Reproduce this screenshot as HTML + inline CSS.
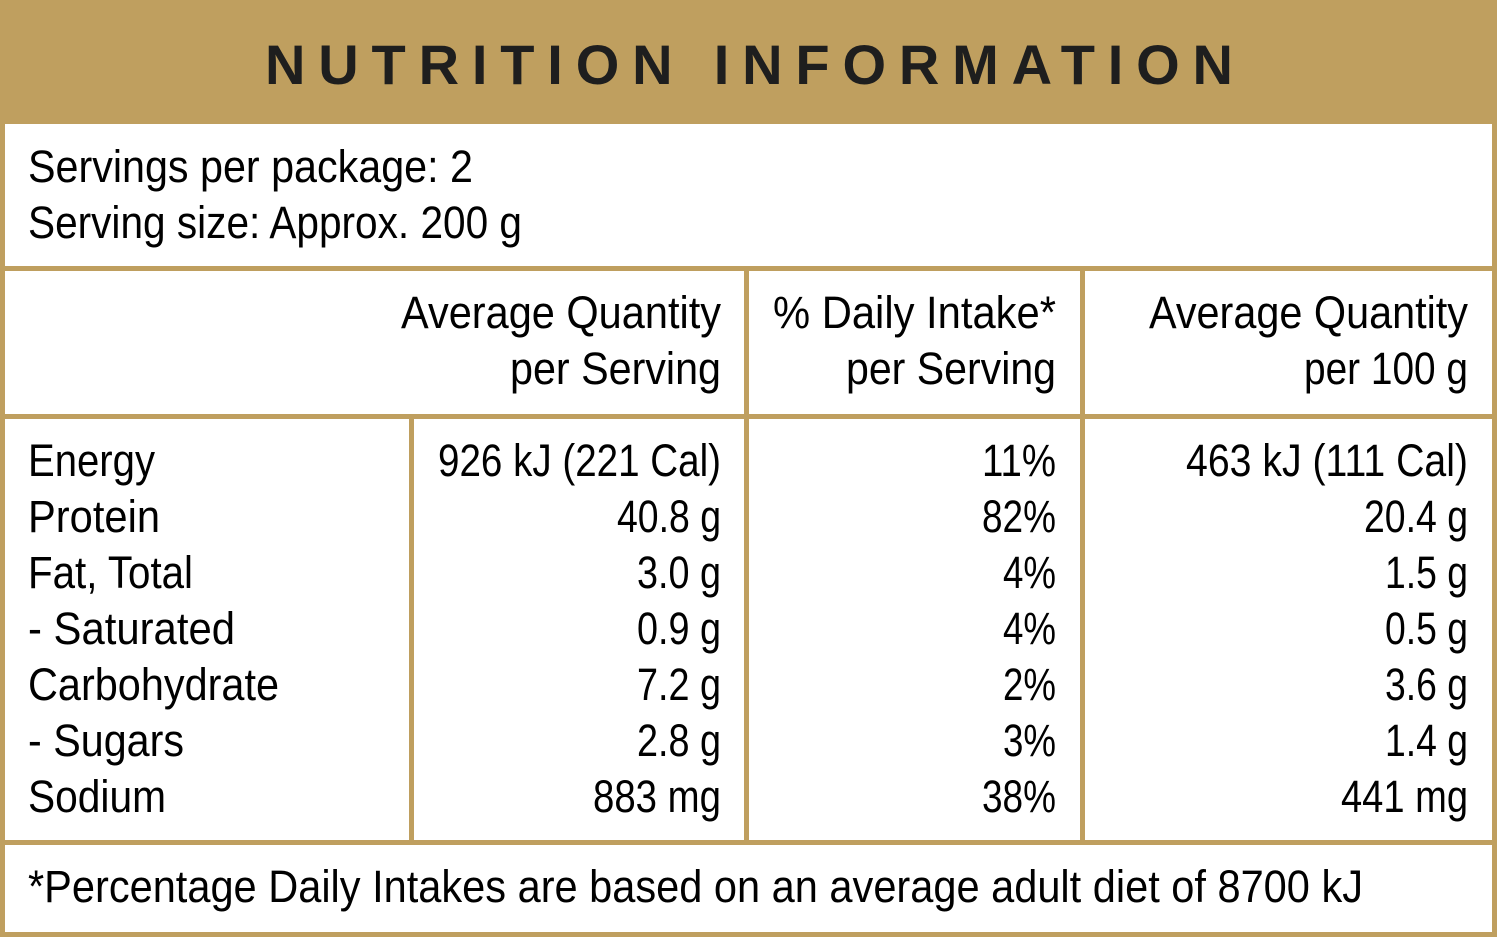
<!DOCTYPE html>
<html><head><meta charset="utf-8"><style>
html,body{margin:0;padding:0;background:#fff}
svg{display:block}
text{font-family:"Liberation Sans Narrow","Liberation Sans",sans-serif;font-size:45px;fill:#000}
</style></head><body>
<svg width="1497" height="937" viewBox="0 0 1497 937" xmlns="http://www.w3.org/2000/svg">
<g fill="#bf9f5f">
<rect x="0" y="0" width="1497" height="124"/>
<rect x="0" y="0" width="5" height="937"/>
<rect x="1492" y="0" width="5" height="937"/>
<rect x="0" y="266" width="1497" height="5"/>
<rect x="0" y="414" width="1497" height="5"/>
<rect x="0" y="840" width="1497" height="5"/>
<rect x="0" y="932" width="1497" height="5"/>
<rect x="409" y="414" width="5" height="428"/>
<rect x="744" y="266" width="5" height="576"/>
<rect x="1080" y="266" width="5" height="576"/>
</g>
<g transform="translate(0,-3)">
<text x="265" y="87" textLength="968" lengthAdjust="spacing" style="font-family:'Liberation Sans',sans-serif;font-weight:bold;font-size:56px;fill:#1e1e1e">NUTRITION INFORMATION</text>
<text x="28" y="185" textLength="445" lengthAdjust="spacingAndGlyphs">Servings per package: 2</text>
<text x="28" y="241" textLength="494" lengthAdjust="spacingAndGlyphs">Serving size: Approx. 200 g</text>
<g text-anchor="end">
<text x="721" y="331" textLength="320" lengthAdjust="spacingAndGlyphs">Average Quantity</text>
<text x="721" y="387" textLength="211" lengthAdjust="spacingAndGlyphs">per Serving</text>
<text x="1056" y="331" textLength="283" lengthAdjust="spacingAndGlyphs">% Daily Intake*</text>
<text x="1056" y="387" textLength="210" lengthAdjust="spacingAndGlyphs">per Serving</text>
<text x="1468" y="331" textLength="319" lengthAdjust="spacingAndGlyphs">Average Quantity</text>
<text x="1468" y="387" textLength="164" lengthAdjust="spacingAndGlyphs">per 100 g</text>
</g>
<g>
<text x="28" y="479" textLength="127" lengthAdjust="spacingAndGlyphs">Energy</text>
<text x="28" y="535" textLength="132" lengthAdjust="spacingAndGlyphs">Protein</text>
<text x="28" y="591" textLength="165" lengthAdjust="spacingAndGlyphs">Fat, Total</text>
<text x="28" y="647" textLength="207" lengthAdjust="spacingAndGlyphs">- Saturated</text>
<text x="28" y="703" textLength="251" lengthAdjust="spacingAndGlyphs">Carbohydrate</text>
<text x="28" y="759" textLength="156" lengthAdjust="spacingAndGlyphs">- Sugars</text>
<text x="28" y="815" textLength="138" lengthAdjust="spacingAndGlyphs">Sodium</text>
</g>
<g text-anchor="end">
<text x="721" y="479" textLength="283" lengthAdjust="spacingAndGlyphs">926 kJ (221 Cal)</text>
<text x="721" y="535" textLength="104" lengthAdjust="spacingAndGlyphs">40.8 g</text>
<text x="721" y="591" textLength="84" lengthAdjust="spacingAndGlyphs">3.0 g</text>
<text x="721" y="647" textLength="84" lengthAdjust="spacingAndGlyphs">0.9 g</text>
<text x="721" y="703" textLength="84" lengthAdjust="spacingAndGlyphs">7.2 g</text>
<text x="721" y="759" textLength="84" lengthAdjust="spacingAndGlyphs">2.8 g</text>
<text x="721" y="815" textLength="128" lengthAdjust="spacingAndGlyphs">883 mg</text>
<text x="1056" y="479" textLength="74" lengthAdjust="spacingAndGlyphs">11%</text>
<text x="1056" y="535" textLength="74" lengthAdjust="spacingAndGlyphs">82%</text>
<text x="1056" y="591" textLength="53" lengthAdjust="spacingAndGlyphs">4%</text>
<text x="1056" y="647" textLength="53" lengthAdjust="spacingAndGlyphs">4%</text>
<text x="1056" y="703" textLength="53" lengthAdjust="spacingAndGlyphs">2%</text>
<text x="1056" y="759" textLength="53" lengthAdjust="spacingAndGlyphs">3%</text>
<text x="1056" y="815" textLength="74" lengthAdjust="spacingAndGlyphs">38%</text>
<text x="1468" y="479" textLength="282" lengthAdjust="spacingAndGlyphs">463 kJ (111 Cal)</text>
<text x="1468" y="535" textLength="104" lengthAdjust="spacingAndGlyphs">20.4 g</text>
<text x="1468" y="591" textLength="83" lengthAdjust="spacingAndGlyphs">1.5 g</text>
<text x="1468" y="647" textLength="83" lengthAdjust="spacingAndGlyphs">0.5 g</text>
<text x="1468" y="703" textLength="83" lengthAdjust="spacingAndGlyphs">3.6 g</text>
<text x="1468" y="759" textLength="83" lengthAdjust="spacingAndGlyphs">1.4 g</text>
<text x="1468" y="815" textLength="127" lengthAdjust="spacingAndGlyphs">441 mg</text>
</g>
<text x="28" y="905" textLength="1335" lengthAdjust="spacingAndGlyphs">*Percentage Daily Intakes are based on an average adult diet of 8700 kJ</text>
</g>
</svg>
</body></html>
